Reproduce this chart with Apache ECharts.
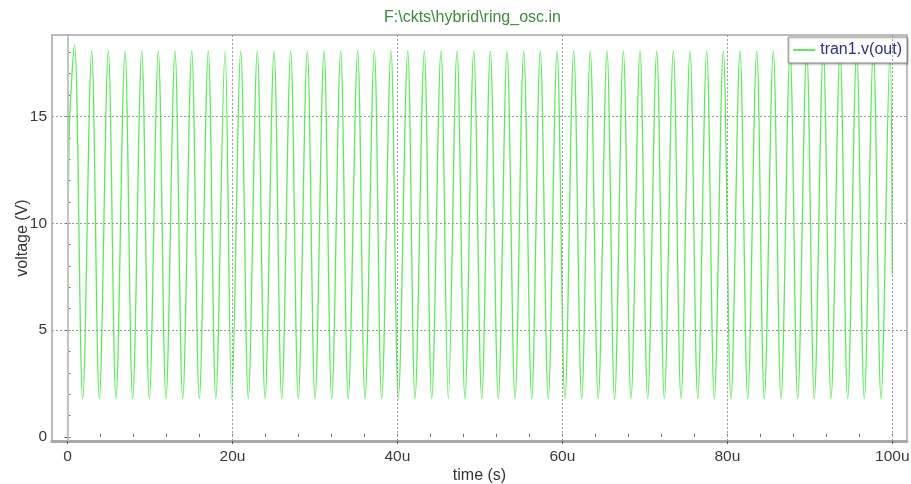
<!DOCTYPE html>
<html>
<head>
<meta charset="utf-8">
<title>ring_osc</title>
<script src="https://cdn.jsdelivr.net/npm/echarts@6/dist/echarts.min.js"></script>
<style>
    html, body { margin: 0; padding: 0; background: #fff; }
    #chart { width: 911px; height: 484px; }
</style>
</head>
<body>
<div id="chart"></div>
<script>
// 起振段 (时间单位 u = 微秒)
const startTime = [0, 0, 0.2]
const startVolt = [0, 0.95, 14.0]

// 波峰
const peakTime = [0.85, 2.93, 4.95, 6.97, 9.00, 11.01, 13.03, 15.06, 17.07, 19.10,
    21.00, 23.01, 25.04, 27.06, 29.07, 31.10, 33.12, 35.18, 37.20, 39.22,
    41.25, 43.26, 45.28, 47.22, 49.25, 51.26, 53.29, 55.31, 57.32, 59.35,
    61.37, 63.38, 65.41, 67.39, 69.41, 71.44, 73.45, 75.47, 77.50, 79.51,
    81.53, 83.56, 85.57, 87.60, 89.62, 91.63, 93.66, 95.68, 97.70, 99.72]
const peakVolt = [18.35, 18.05, 18.05, 18.05, 18.05, 18.05, 18.05, 18.05, 18.05, 18.05,
    18.05, 18.05, 18.05, 18.05, 18.05, 18.05, 18.05, 18.05, 18.05, 18.05,
    18.05, 18.05, 18.05, 18.05, 18.05, 18.05, 18.05, 18.05, 18.05, 18.05,
    18.05, 18.05, 18.05, 18.05, 18.05, 18.05, 18.05, 18.05, 18.05, 18.05,
    18.05, 18.05, 18.05, 18.05, 18.05, 18.05, 18.05, 18.05, 18.05, 18.05]

// 波谷
const troughTime = [1.84, 3.86, 5.88, 7.90, 9.92, 11.94, 13.97, 15.98, 17.98, 19.91,
    21.92, 23.95, 25.97, 27.98, 30.01, 32.03, 34.04, 36.07, 38.09, 40.11,
    42.13, 44.16, 46.17, 48.19, 50.22, 52.23, 54.26, 56.28, 58.29, 60.31,
    62.34, 64.35, 66.33, 68.32, 70.34, 72.36, 74.38, 76.41, 78.42, 80.44,
    82.47, 84.48, 86.51, 88.53, 90.54, 92.57, 94.59, 96.60, 98.63]
const troughVolt = [1.78, 1.78, 1.78, 1.78, 1.78, 1.78, 1.78, 1.78, 1.78, 1.78,
    1.78, 1.78, 1.78, 1.78, 1.78, 1.78, 1.78, 1.78, 1.78, 1.78,
    1.78, 1.78, 1.78, 1.78, 1.78, 1.78, 1.78, 1.78, 1.78, 1.78,
    1.78, 1.78, 1.78, 1.78, 1.78, 1.78, 1.78, 1.78, 1.78, 1.78,
    1.78, 1.78, 1.78, 1.78, 1.78, 1.78, 1.78, 1.78, 1.78]

// 结束点
const endTime = [100]
const endVolt = [7.6]

// 刻度
const xLabelTicks = [0, 20, 40, 60, 80, 100]
const xMinorTicks = [0, 4, 8, 12, 16, 20, 24, 28, 32, 36, 40, 44, 48, 52, 56, 60, 64, 68, 72, 76, 80, 84, 88, 92, 96, 100]
const yLabelTicks = [0, 5, 10, 15]
const yMinorTicks = [0, 1, 2, 3, 4, 5, 6, 7, 8, 9, 10, 11, 12, 13, 14, 15, 16, 17, 18]
const xGridLines = [20, 40, 60, 80, 100]
const yGridLines = [5, 10, 15]

const font = "'Liberation Sans', Arial, sans-serif"

let data = []
for (let i = 0; i < startTime.length; i++) {
    data.push([startTime[i], startVolt[i]])
}
for (let i = 0; i < peakTime.length; i++) {
    data.push([peakTime[i], peakVolt[i]])
    if (i < troughTime.length) {
        data.push([troughTime[i], troughVolt[i]])
    }
}
for (let i = 0; i < endTime.length; i++) {
    data.push([endTime[i], endVolt[i]])
}

// 网格线用 markLine 画
let gridLines = [{
    xAxis: 0,
    lineStyle: { type: 'solid', color: '#c4c4c4', width: 2 }
}]
xGridLines.forEach(v => gridLines.push({ xAxis: v }))
yGridLines.forEach(v => gridLines.push({ yAxis: v }))

const gridBox = { left: 52, right: 4, top: 35, bottom: 43, outerBoundsMode: 'none', containLabel: false }
const xRange = { min: -1.88, max: 101.78 }
const yRange = { min: -0.19, max: 18.81 }

let myChart = echarts.init(document.getElementById('chart'))

option = {
    animation: false,
    backgroundColor: '#fff',
    title: {
        text: 'F:\\ckts\\hybrid\\ring_osc.in',
        left: 379,
        top: 5,
        textStyle: { color: '#3b8b3b', fontSize: 16, fontWeight: 'normal', fontFamily: font }
    },
    legend: {
        data: ['tran1.v(out)'],
        right: 4,
        top: 37,
        icon: 'rect',
        itemWidth: 22,
        itemHeight: 2,
        itemGap: 5,
        padding: [5, 5, 5, 5],
        backgroundColor: '#fff',
        borderColor: '#8a8a8a',
        borderWidth: 1,
        shadowColor: 'rgba(0,0,0,0.25)',
        shadowBlur: 2,
        shadowOffsetX: 1,
        shadowOffsetY: 1,
        textStyle: { color: '#2e2e8c', fontSize: 16, fontFamily: font }
    },
    grid: [
        Object.assign({ show: true, borderColor: '#bcbcbc', borderWidth: 2 }, gridBox),
        Object.assign({}, gridBox)
    ],
    xAxis: [{
        type: 'value',
        gridIndex: 0,
        min: xRange.min,
        max: xRange.max,
        name: 'time (s)',
        nameLocation: 'middle',
        nameGap: 27,
        nameMoveOverlap: false,
        nameTextStyle: { color: '#333', fontSize: 16, fontFamily: font },
        axisLine: { onZero: false, lineStyle: { color: '#a8a8a8', width: 3 } },
        axisTick: { customValues: xLabelTicks, length: 3, lineStyle: { color: '#555' } },
        axisLabel: {
            customValues: xLabelTicks,
            margin: 8,
            color: '#3a3a3a',
            fontSize: 15.5,
            fontFamily: font,
            formatter: v => v === 0 ? '0' : v + 'u'
        },
        splitLine: { show: false }
    }, {
        type: 'value',
        gridIndex: 1,
        min: xRange.min,
        max: xRange.max,
        axisLine: { show: false },
        axisTick: { customValues: xMinorTicks, inside: true, length: 3, lineStyle: { color: '#666' } },
        axisLabel: { show: false },
        splitLine: { show: false }
    }],
    yAxis: [{
        type: 'value',
        gridIndex: 0,
        min: yRange.min,
        max: yRange.max,
        name: 'voltage (V)',
        nameLocation: 'middle',
        nameGap: 21,
        nameMoveOverlap: false,
        nameTextStyle: { color: '#333', fontSize: 16, fontFamily: font },
        axisLine: { show: true, lineStyle: { color: '#a8a8a8', width: 2 } },
        axisTick: { customValues: yLabelTicks, length: 3, lineStyle: { color: '#555' } },
        axisLabel: {
            customValues: yLabelTicks,
            margin: 5,
            color: '#3a3a3a',
            fontSize: 15.5,
            fontFamily: font
        },
        splitLine: { show: false }
    }, {
        type: 'value',
        gridIndex: 1,
        min: yRange.min,
        max: yRange.max,
        axisLine: { show: false },
        axisTick: { customValues: yMinorTicks, inside: true, length: 3, lineStyle: { color: '#666' } },
        axisLabel: { show: false },
        splitLine: { show: false }
    }],
    series: [{
        name: 'tran1.v(out)',
        type: 'line',
        xAxisIndex: 0,
        yAxisIndex: 0,
        showSymbol: false,
        smooth: 0.35,
        color: '#58ee58',
        lineStyle: { color: '#58ee58', width: 1.3 },
        data: data,
        markLine: {
            silent: true,
            symbol: 'none',
            label: { show: false },
            lineStyle: { type: [2, 2], color: '#999', width: 1 },
            data: gridLines
        }
    }]
}
myChart.setOption(option)
</script>
</body>
</html>
